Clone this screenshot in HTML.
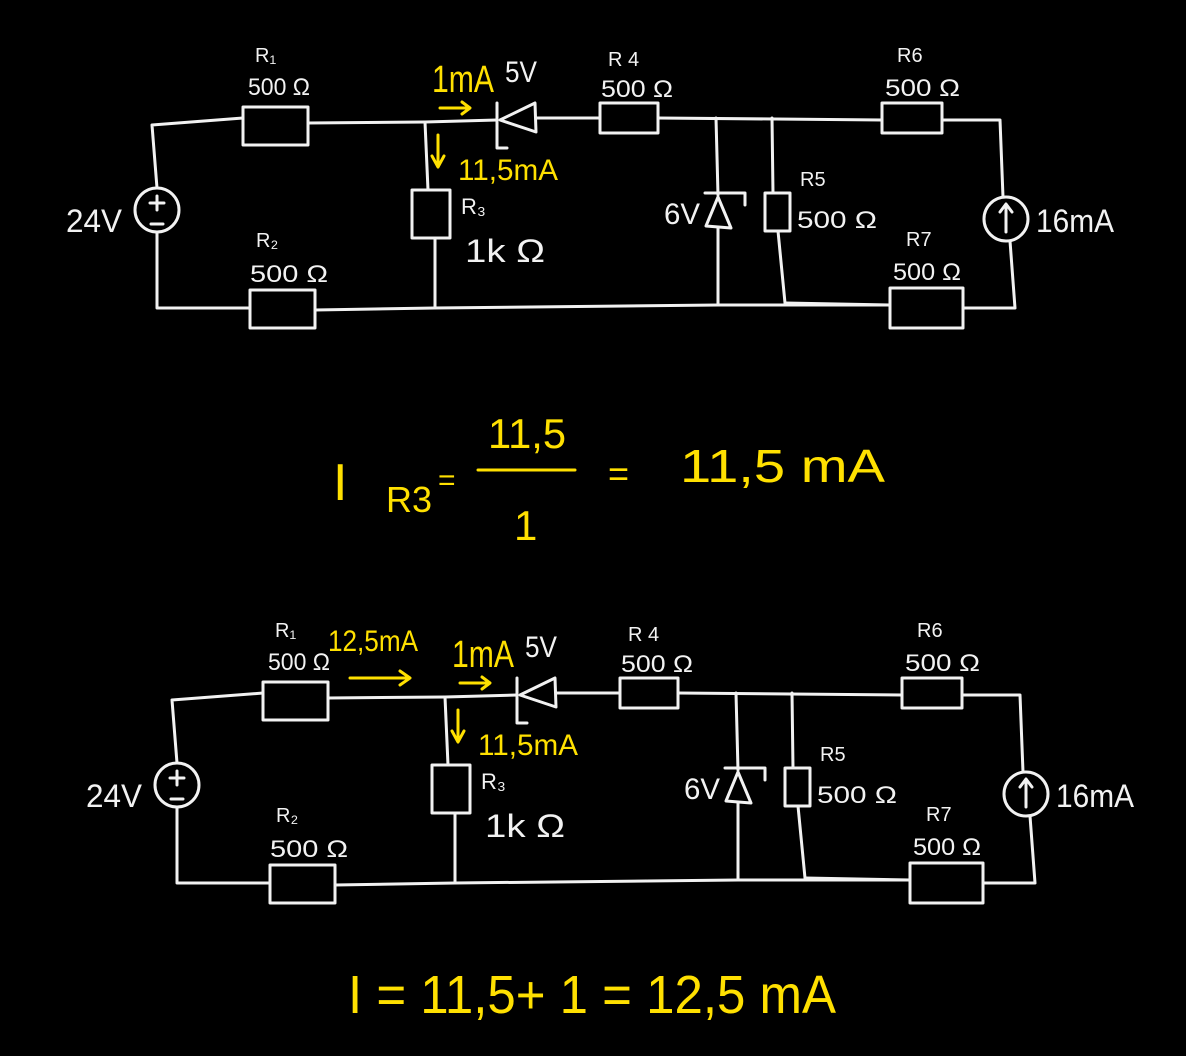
<!DOCTYPE html>
<html><head><style>
html,body{margin:0;padding:0;background:#000;}
svg{display:block}
text{font-family:"Liberation Sans",sans-serif;}
.w{fill:#f2f2f2;}
.y{fill:#ffe000;}
</style></head><body>
<svg width="1186" height="1056" viewBox="0 0 1186 1056" xmlns="http://www.w3.org/2000/svg">
<defs>
<g id="ckt">
 <g fill="none" stroke="#f2f2f2" stroke-width="3" stroke-linejoin="round" stroke-linecap="round">
  <polyline points="157,188 152,125 243,118"/>
  <rect x="243" y="107" width="65" height="38"/>
  <polyline points="308,123 425,122 497,120"/>
  <polyline points="157,232 157,308 250,308"/>
  <rect x="250" y="290" width="65" height="38"/>
  <polyline points="315,310 435,308 718,305 890,305"/>
  <circle cx="157" cy="210" r="22"/>
  <line x1="425" y1="122" x2="428" y2="190"/>
  <rect x="412" y="190" width="38" height="48"/>
  <line x1="435" y1="238" x2="435" y2="308"/>
  <polyline points="497,103 497,148 507,148"/>
  <polygon points="500,120 535,103 536,132"/>
  <polyline points="536,118 600,118"/>
  <rect x="600" y="103" width="58" height="30"/>
  <polyline points="658,118 882,120"/>
  <rect x="882" y="103" width="60" height="30"/>
  <polyline points="942,120 1000,120 1003,197"/>
  <circle cx="1006" cy="219" r="22"/>
  <polyline points="1010,241 1015,308 963,308"/>
  <rect x="890" y="288" width="73" height="40"/>
  <polyline points="890,305 785,303"/>
  <line x1="716" y1="118" x2="718" y2="195"/>
  <polyline points="705,193 745,193 745,205"/>
  <polygon points="718,197 706,226 731,228"/>
  <line x1="718" y1="228" x2="718" y2="305"/>
  <line x1="772" y1="118" x2="773" y2="193"/>
  <rect x="765" y="193" width="25" height="38"/>
  <line x1="778" y1="231" x2="785" y2="303"/>
  <path d="M1006,232 L1006,205 M1000,212 L1006,204 L1012,212"/>
  <path d="M150,203 L164,203 M157,196 L157,210 M151,224 L163,224"/>
 </g>
 <g fill="none" stroke="#ffe000" stroke-width="3" stroke-linecap="round" stroke-linejoin="round">
  <path d="M440,108 L468,108 M462,102 L470,108 L462,114"/>
  <path d="M438,135 L438,165 M432,156 L438,167 L444,156"/>
 </g>
 <g class="w" font-size="24">
  <text x="255" y="62" font-size="20">R₁</text>
  <text x="248" y="95" textLength="62" lengthAdjust="spacingAndGlyphs">500 Ω</text>
  <text x="256" y="247" font-size="20">R₂</text>
  <text x="250" y="282" textLength="78" lengthAdjust="spacingAndGlyphs">500 Ω</text>
  <text x="66" y="232" font-size="32" textLength="56" lengthAdjust="spacingAndGlyphs">24V</text>
  <text x="505" y="82" font-size="30" textLength="32" lengthAdjust="spacingAndGlyphs">5V</text>
  <text x="608" y="66" font-size="20">R 4</text>
  <text x="601" y="97" textLength="72" lengthAdjust="spacingAndGlyphs">500 Ω</text>
  <text x="461" y="214" font-size="22">R₃</text>
  <text x="465" y="262" font-size="32" textLength="80" lengthAdjust="spacingAndGlyphs">1k Ω</text>
  <text x="664" y="224" font-size="30" textLength="36" lengthAdjust="spacingAndGlyphs">6V</text>
  <text x="800" y="186" font-size="20">R5</text>
  <text x="797" y="228" textLength="80" lengthAdjust="spacingAndGlyphs">500 Ω</text>
  <text x="897" y="62" font-size="20">R6</text>
  <text x="885" y="96" textLength="75" lengthAdjust="spacingAndGlyphs">500 Ω</text>
  <text x="906" y="246" font-size="20">R7</text>
  <text x="893" y="280" textLength="68" lengthAdjust="spacingAndGlyphs">500 Ω</text>
  <text x="1036" y="232" font-size="32" textLength="78" lengthAdjust="spacingAndGlyphs">16mA</text>
 </g>
 <g class="y">
  <text x="432" y="92" font-size="38" textLength="62" lengthAdjust="spacingAndGlyphs">1mA</text>
  <text x="458" y="180" font-size="30" textLength="100" lengthAdjust="spacingAndGlyphs">11,5mA</text>
 </g>
</g>
</defs>
<use href="#ckt"/>
<use href="#ckt" transform="translate(20,575)"/>
<g fill="none" stroke="#ffe000" stroke-width="3" stroke-linecap="round" stroke-linejoin="round">
 <path d="M350,678 L408,678 M400,671 L410,678 L400,685"/>
 <line x1="478" y1="470" x2="575" y2="470"/>
</g>
<g class="y">
 <text x="328" y="651" font-size="30" textLength="90" lengthAdjust="spacingAndGlyphs">12,5mA</text>
 <text x="333" y="500" font-size="52">I</text>
 <text x="386" y="512" font-size="36" textLength="46" lengthAdjust="spacingAndGlyphs">R3</text>
 <text x="438" y="490" font-size="30">=</text>
 <text x="488" y="448" font-size="42" textLength="78" lengthAdjust="spacingAndGlyphs">11,5</text>
 <text x="514" y="540" font-size="42">1</text>
 <text x="608" y="486" font-size="36">=</text>
 <text x="680" y="482" font-size="46" textLength="205" lengthAdjust="spacingAndGlyphs">11,5 mA</text>
 <text x="348" y="1013" font-size="54" textLength="488" lengthAdjust="spacingAndGlyphs">I = 11,5+ 1 = 12,5 mA</text>
</g>
</svg>
</body></html>
